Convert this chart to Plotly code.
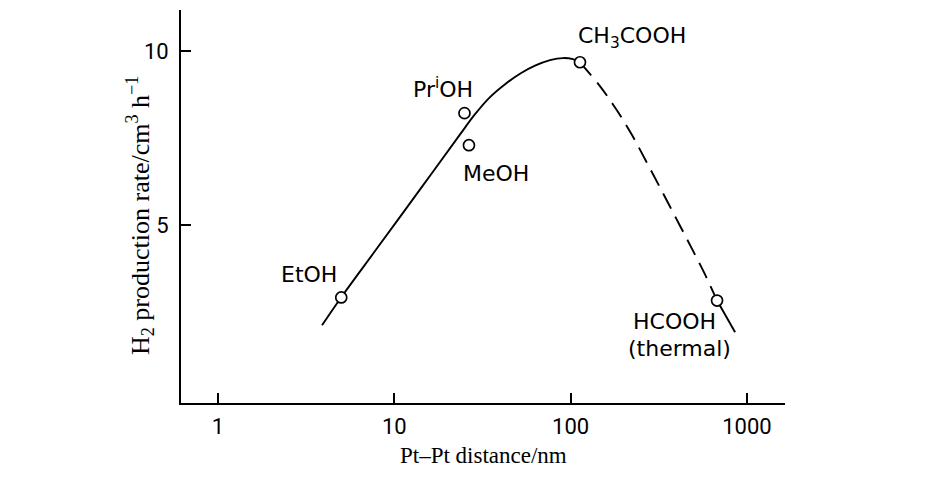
import plotly.graph_objects as go

# Measured points (Pt-Pt distance / nm, H2 rate / cm3 h-1)
labels = ["EtOH", "PriOH", "MeOH", "CH3COOH", "HCOOH (thermal)"]
pt_x = [5.0, 25.0, 26.5, 113, 677]
pt_y = [2.93, 8.22, 7.30, 9.68, 2.84]

# Hand-drawn trend curve: solid part
solid_x = [3.89, 4.99, 7.98, 14.0, 23.6, 28.7, 34.9, 42.5, 51.6, 62.8, 76.4, 90.5, 103, 113]
solid_y = [2.13, 2.93, 4.34, 6.03, 7.61, 8.19, 8.68, 9.05, 9.35, 9.58, 9.74, 9.80, 9.77, 9.68]
# dashed part
dash_x = [113, 147, 183, 223, 268, 321, 391, 476, 571, 677]
dash_y = [9.68, 8.99, 8.30, 7.59, 6.84, 6.09, 5.26, 4.43, 3.65, 2.84]
# solid tail
tail_x = [677, 857]
tail_y = [2.84, 1.93]

x_tickvals = [1, 10, 100, 1000]
x_ticktext = ["1", "10", "100", "1000"]
y_tickvals = [5, 10]
y_ticktext = ["5", "10"]

# page offset (browser body margin)
OX, OY = 8, 8
W, H = 927 - OX, 485 - OY
L, R, T, B = 181 - OX, 785 - OX, 10 - OY, 403 - OY

def px(x):
    return (x - OX - L) / (R - L)

def py(y):
    return (B - (y - OY)) / (B - T)

fig = go.Figure()
line_style = dict(color="black", width=1.9, shape="spline", smoothing=1.0)
fig.add_trace(go.Scatter(x=solid_x, y=solid_y, mode="lines", line=line_style,
                         hoverinfo="skip", showlegend=False))
fig.add_trace(go.Scatter(x=dash_x, y=dash_y, mode="lines",
                         line=dict(line_style, dash="17px,9px"),
                         hoverinfo="skip", showlegend=False))
fig.add_trace(go.Scatter(x=tail_x, y=tail_y, mode="lines", line=line_style,
                         hoverinfo="skip", showlegend=False))
fig.add_trace(go.Scatter(x=pt_x, y=pt_y, mode="markers", text=labels,
                         marker=dict(symbol="circle", size=11, color="white",
                                     line=dict(color="black", width=1.7)),
                         showlegend=False))

sans = dict(family="DejaVu Sans", size=22, color="black")
ann = [
    ("EtOH", 309, 274),
    ("Pr<sup>i</sup>OH", 443, 88),
    ("MeOH", 496, 173),
    ("CH<sub>3</sub>COOH", 632, 38),
    ("HCOOH", 674, 321),
    ("(thermal)", 679, 348),
]
for t, ax, ay in ann:
    fig.add_annotation(text=t, x=px(ax), y=py(ay), xref="paper", yref="paper",
                       showarrow=False, xanchor="center", yanchor="middle", font=sans)

fig.add_annotation(text="H<sub>2</sub> production rate/cm<sup>3</sup> h<sup>\u22121</sup>",
                   x=px(140), y=py(216), xref="paper", yref="paper", textangle=-90,
                   showarrow=False, xanchor="center", yanchor="middle",
                   font=dict(family="Liberation Serif", size=26, color="black"))
fig.add_annotation(text="Pt\u2013Pt distance/nm", x=px(483), y=py(455),
                   xref="paper", yref="paper", showarrow=False,
                   xanchor="center", yanchor="middle",
                   font=dict(family="Liberation Serif", size=23, color="black"))

fig.update_layout(
    width=W, height=H,
    margin=dict(l=L, r=W - R, t=T, b=H - B),
    paper_bgcolor="white", plot_bgcolor="white",
    xaxis=dict(type="log", range=[-0.21, 3.216], tickvals=x_tickvals, ticktext=x_ticktext,
               ticks="inside", ticklen=10, tickwidth=1.5, tickcolor="black",
               showline=True, linecolor="black", linewidth=1.8, showgrid=False,
               zeroline=False, tickfont=dict(family="Roboto", size=22, color="black"),
               ticklabelstandoff=3),
    yaxis=dict(range=[-0.1, 11.18], tickvals=y_tickvals, ticktext=y_ticktext,
               ticks="inside", ticklen=10, tickwidth=1.5, tickcolor="black",
               showline=True, linecolor="black", linewidth=1.8, showgrid=False,
               zeroline=False, tickfont=dict(family="Roboto", size=22, color="black"),
               ticklabelstandoff=6),
)

fig.write_html("out.html")
